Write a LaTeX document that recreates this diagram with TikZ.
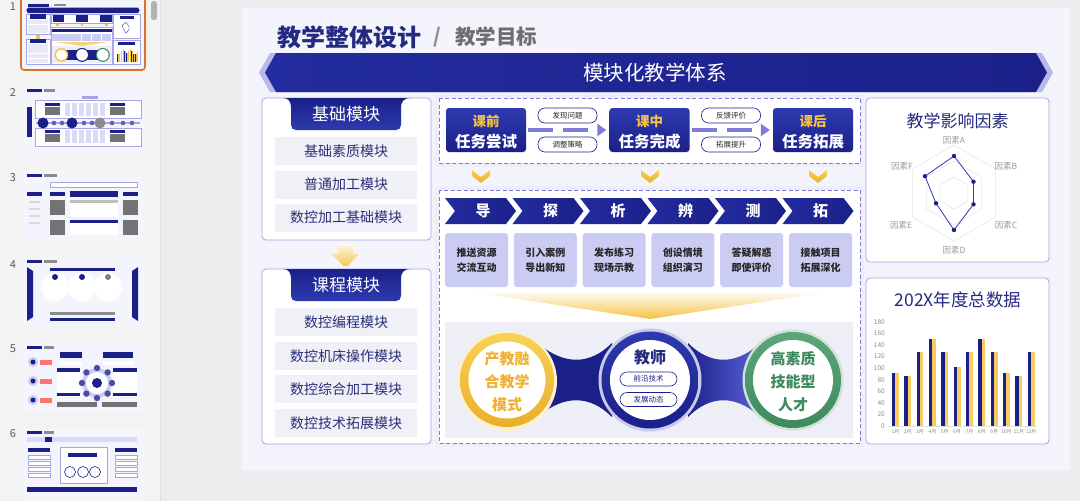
\documentclass[tikz,border=0pt]{standalone}
\usepackage{fontspec}
\setmainfont{Noto Sans CJK SC}
\usetikzlibrary{arrows.meta,calc}
\definecolor{db}{HTML}{1B2089}
\definecolor{dbm}{HTML}{232C9E}
\definecolor{dbl}{HTML}{2E3AAE}
\definecolor{lav}{HTML}{7E7CD8}
\definecolor{lavb}{HTML}{A6A6E4}
\definecolor{lavfill}{HTML}{CBCCF3}
\definecolor{gold}{HTML}{F5C243}
\definecolor{goldl}{HTML}{F8D258}
\definecolor{golddk}{HTML}{EBAE2A}
\definecolor{goldtxt}{HTML}{F0B030}
\definecolor{grn}{HTML}{3E8A5E}
\definecolor{grnl}{HTML}{5BA77A}
\definecolor{slidebg}{HTML}{F4F5FC}
\definecolor{itembg}{HTML}{F0F0F7}
\definecolor{navytxt}{HTML}{232A82}
\definecolor{itemtxt}{HTML}{2B2F78}
\definecolor{panelbg}{HTML}{EEEEF6}
\definecolor{uibg}{HTML}{EDEDEF}
\definecolor{leftbg}{HTML}{F3F3F3}
\definecolor{selorange}{HTML}{D9732B}
\definecolor{grtxt}{HTML}{6E6E6E}
\definecolor{bandr}{HTML}{5A5FD6}
\newcommand\fsz[1]{\fontsize{#1}{#1}\selectfont}
\newcommand\hexring[1]{(954,{193-#1}) -- ({954+0.866*#1},{193-0.5*#1}) -- ({954+0.866*#1},{193+0.5*#1}) -- (954,{193+#1}) -- ({954-0.866*#1},{193+0.5*#1}) -- ({954-0.866*#1},{193-0.5*#1}) -- cycle}
\newcommand\tabpath[1]{(283,#1) -- (411,#1) .. controls (403,#1) and (401,{#1+4}) .. (401,{#1+10}) -- (401,{#1+27}) .. controls (401,{#1+30}) and (399,{#1+32}) .. (396,{#1+32}) -- (296,{#1+32}) .. controls (293,{#1+32}) and (291,{#1+30}) .. (291,{#1+27}) -- (291,{#1+10}) .. controls (291,{#1+4}) and (289,#1) .. (283,#1) -- cycle}
\newcommand\vchev[1]{({#1-9},170) -- (#1,177) -- ({#1+9},170) -- ({#1+9},176) -- (#1,183) -- ({#1-9},176) -- cycle}
\begin{document}
\begin{tikzpicture}[x=1pt,y=-1pt,
  modbox/.style={fill=white,draw=lavb,line width=0.8pt,rounded corners=4pt},
  itembox/.style={fill=itembg,minimum width=142pt,minimum height=28pt,inner sep=0pt,font=\fsz{14},text=itemtxt},
  tabtext/.style={font=\fsz{17},text=white},
  dashbox/.style={fill=white,draw=lav,line width=1pt,dash pattern=on 4pt off 2.5pt},
  glowbox/.style={fill=lav!13},
  stagebox/.style={top color=dbl,bottom color=db,rounded corners=3pt,minimum width=80pt,minimum height=44pt,inner sep=0pt},
  stagetop/.style={font=\fsz{13.5}\bfseries,text=gold},
  stagebot/.style={font=\fsz{15.5}\bfseries,text=white},
  pill/.style={draw=db,line width=0.6pt,fill=white,rounded corners=7pt,minimum width=59pt,minimum height=15pt,inner sep=0pt,font=\fsz{7.5},text=black!85},
  flow/.style={draw=lav,line width=3.5pt,dash pattern=on 25pt off 10pt,-{Triangle[length=9pt,width=12pt]}},
  chevtext/.style={font=\fsz{15}\bfseries,text=white},
  actbox/.style={fill=lavfill,rounded corners=3pt,minimum width=63pt,minimum height=54pt,inner sep=0pt,align=center,font=\fontsize{10}{15.5}\selectfont\bfseries,text=black!85},
  ctext/.style={font=\fsz{15}\bfseries},
  tpill/.style={draw=db,line width=0.6pt,fill=white,rounded corners=7pt,minimum width=57pt,minimum height=14pt,inner sep=0pt,font=\fsz{7.5},text=db},
  rlabel/.style={font=\fsz{8.5},text=black!40},
  ylabel/.style={font=\fsz{6.5},text=black!45,anchor=east,inner sep=0pt},
  mlabel/.style={font=\fsz{5},text=black!45,inner sep=0pt},
  thumbnum/.style={font=\fsz{11},text=black!65},
  tline/.style={draw=lavb,line width=0.3pt}
]
\useasboundingbox (0,0) rectangle (1080,501);
% ---------- UI background ----------
\fill[uibg] (0,0) rectangle (1080,501);
\fill[leftbg] (0,0) rectangle (160,501);
\draw[black!12,line width=0.6pt] (160,0) -- (160,501);
\fill[black!30,rounded corners=2.5pt] (151,1) rectangle (157,20);
% thumbnail numbers
\node[thumbnum] (n1) at (13,7) {1};
\node[thumbnum] (n2) at (13,93) {2};
\node[thumbnum] (n3) at (13,178) {3};
\node[thumbnum] (n4) at (13,265) {4};
\node[thumbnum] (n5) at (13,349) {5};
\node[thumbnum] (n6) at (13,434) {6};
% ---------- thumbnail 1 (miniature of this slide) ----------
\begin{scope}[shift={(-12.07,-0.16)},scale=0.1449]
  \fill[slidebg] (242,8) rectangle (1070,470);
  \fill[db] (277,27) rectangle (422,46);
  \fill[black!45] (455,29) rectangle (537,45);
  \fill[db] (276,53) -- (1036,53) -- (1047,72.5) -- (1036,92) -- (276,92) -- (265,72.5) -- cycle;
  \fill[white] (262,98) rectangle (431,240);
  \fill[white] (262,269) rectangle (431,444);
  \draw[tline] (262,98) rectangle (431,240);
  \draw[tline] (262,269) rectangle (431,444);
  \fill[db] (291,98) rectangle (401,130);
  \fill[db] (291,269) rectangle (401,301);
  \foreach \yy in {151,184.5,217.5,322,356,389,423} \fill[itembg!80!lavfill] (275,{\yy-14}) rectangle (417,{\yy+14});
  \fill[gold] (335,243) rectangle (358,268);
  \fill[white] (439,98) rectangle (860,163);
  \draw[tline] (439,98) rectangle (860,163);
  \fill[db] (446,108) rectangle (526,152);
  \fill[db] (610,108) rectangle (689,152);
  \fill[db] (773,108) rectangle (853,152);
  \fill[gold] (472,170) rectangle (490,183);
  \fill[gold] (641,170) rectangle (659,183);
  \fill[gold] (809,170) rectangle (827,183);
  \fill[white] (439,190) rectangle (860,443);
  \draw[tline] (439,190) rectangle (860,443);
  \fill[db] (445,198) rectangle (853,224);
  \foreach \i in {0,...,5} \fill[lavfill] ({445+68.8*\i},233) rectangle ({508+68.8*\i},287);
  \fill[gold!70] (465,291) -- (834,291) -- (650,319) -- cycle;
  \fill[panelbg] (445,322) rectangle (853,438);
  \fill[db] (540,345) rectangle (760,415);
  \fill[gold] (507,380) circle (47); \fill[white] (507,380) circle (38);
  \fill[db] (650,380) circle (48); \fill[white] (650,380) circle (40);
  \fill[grn] (793,380) circle (48); \fill[white] (793,380) circle (40);
  \fill[white] (866,98) rectangle (1049,262);
  \fill[white] (866,278) rectangle (1049,444);
  \draw[tline] (866,98) rectangle (1049,262);
  \draw[tline] (866,278) rectangle (1049,444);
  \fill[db] (910,112) rectangle (1005,130);
  \fill[db] (898,291) rectangle (1018,310);
  \draw[db,line width=0.3pt] (954,156) -- (973.5,181.7) -- (973.5,204.3) -- (954,230) -- (936,203.3) -- (925,176.2) -- cycle;
  \foreach \i/\v in {1/92,2/86,3/128,4/150,5/128,6/102,7/128,8/150,9/128,10/92,11/86,12/128}{
    \fill[db] ({892+12.34*(\i-1)},426) rectangle ({895.4+12.34*(\i-1)},{426-0.5778*\v});
    \fill[gold] ({895.4+12.34*(\i-1)},426) rectangle ({898.8+12.34*(\i-1)},{426-0.5778*\v});
  }
\end{scope}
\draw[selorange,line width=1.6pt,rounded corners=3pt] (21,-3) rectangle (145,70);
% ---------- thumbnail 2 ----------
\begin{scope}[shift={(22,86)}]
  \fill[slidebg] (0,0) rectangle (122,69);
  \fill[db] (5,3) rectangle (20,6); \fill[black!45] (22,3) rectangle (33,6);
  \fill[lavb] (60,10) rectangle (76,13);
  \fill[white] (13,14) rectangle (119,32); \draw[tline] (13,14) rectangle (119,32);
  \fill[white] (13,42) rectangle (119,60); \draw[tline] (13,42) rectangle (119,60);
  \fill[db] (5,21) rectangle (10,51);
  \fill[db] (23,17) rectangle (38,20); \fill[db] (88,17) rectangle (103,20);
  \fill[black!55] (23,21) rectangle (38,29); \fill[black!55] (88,21) rectangle (103,29);
  \fill[db] (23,44) rectangle (38,47); \fill[db] (88,44) rectangle (103,47);
  \fill[black!55] (23,48) rectangle (38,56); \fill[black!55] (88,48) rectangle (103,56);
  \foreach \xx in {43,50,57,64,71,78}{\fill[lavfill!70] (\xx,17) rectangle (\xx+5,30); \fill[lavfill!70] (\xx,44) rectangle (\xx+5,57);}
  \draw[lavb,line width=1.5pt] (14,37) -- (118,37);
  \fill[db] (21,37) circle (5.5); \fill[db] (50,37) circle (5.5); \fill[black!45] (78,37) circle (5.5);
  \foreach \xx in {32,40,62,70,90,101,110} \fill[db!70] (\xx,37) circle (2.3);
\end{scope}
% ---------- thumbnail 3 ----------
\begin{scope}[shift={(22,171)}]
  \fill[slidebg] (0,0) rectangle (122,69);
  \fill[db] (5,3) rectangle (20,6); \fill[black!45] (22,3) rectangle (35,6);
  \fill[white] (28,11) rectangle (115,16); \draw[tline] (28,11) rectangle (115,16);
  \fill[db] (5,21) rectangle (20,25);
  \foreach \yy in {30,37,44,51} \fill[black!15] (7,\yy) rectangle (18,\yy+2);
  \fill[db] (28,21) rectangle (43,25); \fill[db] (48,20) rectangle (96,26); \fill[db] (101,21) rectangle (116,25);
  \fill[black!55] (28,29) rectangle (43,44); \fill[black!55] (101,29) rectangle (116,44);
  \fill[black!55] (28,49) rectangle (43,64); \fill[black!55] (101,49) rectangle (116,64);
  \fill[white] (48,29) rectangle (96,46); \fill[black!25] (48,29) rectangle (96,32);
  \fill[white] (48,49) rectangle (96,64); \fill[db] (48,49) rectangle (96,52);
\end{scope}
% ---------- thumbnail 4 ----------
\begin{scope}[shift={(22,257)}]
  \fill[slidebg] (0,0) rectangle (122,69);
  \fill[db] (5,3) rectangle (20,6); \fill[black!45] (22,3) rectangle (35,6);
  \fill[db] (5,10) -- (11,14) -- (11,60) -- (5,64) -- cycle;
  \fill[db] (116,10) -- (110,14) -- (110,60) -- (116,64) -- cycle;
  \fill[db] (28,11) rectangle (93,14);
  \fill[white] (33,30) circle (14); \fill[white] (60,30) circle (14); \fill[white] (86,30) circle (14);
  \fill[db] (33,20) circle (3); \fill[db] (60,20) circle (3); \fill[black!50] (86,20) circle (3);
  \fill[black!45] (28,55) rectangle (93,58);
  \fill[db] (28,61) rectangle (93,64);
\end{scope}
% ---------- thumbnail 5 ----------
\begin{scope}[shift={(22,343)}]
  \fill[slidebg] (0,0) rectangle (122,69);
  \fill[db] (5,3) rectangle (20,6); \fill[black!45] (22,3) rectangle (32,6);
  \foreach \yy in {19,38,57}{\fill[lavfill] (11,\yy) circle (5); \fill[db] (11,\yy) circle (2.5); \fill[red!55] (18,\yy-2.5) rectangle (30,\yy+2.5);}
  \fill[db] (38,9) rectangle (60,15); \fill[db] (81,9) rectangle (111,15);
  \fill[white] (38,18) rectangle (60,22); \fill[white] (81,18) rectangle (111,22);
  \fill[white] (35,25) rectangle (58,54); \fill[db] (35,25) rectangle (58,29); \fill[db] (35,50) rectangle (58,53);
  \fill[white] (91,25) rectangle (115,54); \fill[db] (91,25) rectangle (115,29); \fill[db] (91,50) rectangle (115,53);
  \fill[lavfill] (75,40) circle (15); \fill[white] (75,40) circle (11);
  \foreach \a in {0,45,...,315} \fill[db!80] ({75+15*cos(\a)},{40+15*sin(\a)}) circle (3.2);
  \fill[db] (75,40) circle (5);
  \fill[black!55] (35,59) rectangle (75,64); \fill[black!55] (80,59) rectangle (115,64);
\end{scope}
% ---------- thumbnail 6 ----------
\begin{scope}[shift={(22,428)}]
  \fill[slidebg] (0,0) rectangle (122,69);
  \fill[db] (5,3) rectangle (20,6); \fill[black!45] (22,3) rectangle (32,6);
  \fill[lavfill!70] (5,9) rectangle (115,14); \fill[db] (23,9) rectangle (30,14);
  \fill[db] (6,20) rectangle (28,24); \fill[db] (93,20) rectangle (115,24);
  \foreach \yy in {27,33,39,45}{\draw[tline,fill=white] (6,\yy) rectangle (28,\yy+4); \draw[tline,fill=white] (93,\yy) rectangle (115,\yy+4);}
  \fill[white] (38,19) rectangle (85,55); \draw[tline] (38,19) rectangle (85,55);
  \fill[db] (46,25) rectangle (75,29);
  \foreach \xx in {48,61,73} \draw[db,line width=0.6pt,fill=white] (\xx,44) circle (5.5);
  \fill[db] (5,59) rectangle (115,64);
\end{scope}
% ---------- main slide ----------
\fill[black!7] (243,9) rectangle (1071,471);
\fill[slidebg] (242,8) rectangle (1070,470);
% title
\node[anchor=west,font=\fsz{24}\bfseries,text=navytxt,inner sep=0pt] (title) at (277,37) {教学整体设计};
\node[font=\fsz{20}\bfseries,text=grtxt!80,inner sep=0pt] (slash) at (437,37) {/};
\node[anchor=west,font=\fsz{20.5}\bfseries,text=grtxt,inner sep=0pt] (subtitle) at (455,37) {教学目标};
% banner
\fill[lavb!80] (270,53) -- (1030,53) -- (1041,72.5) -- (1030,92) -- (270,92) -- (259,72.5) -- cycle;
\fill[lavb!80] (282,53) -- (1042,53) -- (1053,72.5) -- (1042,92) -- (282,92) -- (271,72.5) -- cycle;
\shade[left color=dbm,right color=db] (276,53) -- (1036,53) -- (1047,72.5) -- (1036,92) -- (276,92) -- (265,72.5) -- cycle;
\node[font=\fsz{20.5},text=white] (banner) at (655,73) {模块化教学体系};
% left module boxes
\fill[lav!10,rounded corners=5pt] (259,95) rectangle (434,243);
\draw[modbox] (262,98) rectangle (431,240);
\shade[top color=db,bottom color=dbl] \tabpath{98};
\node[tabtext] (t1) at (346,114.5) {基础模块};
\node[itembox] (m1) at (346,151) {基础素质模块};
\node[itembox] (m2) at (346,184.5) {普通加工模块};
\node[itembox] (m3) at (346,217.5) {数控加工基础模块};
\shade[top color=gold!10,bottom color=gold] (338,243) -- (353,243) -- (353,254) -- (359,254) -- (345.5,268) -- (332,254) -- (338,254) -- cycle;
\fill[lav!10,rounded corners=5pt] (259,266) rectangle (434,447);
\draw[modbox] (262,269) rectangle (431,444);
\shade[top color=db,bottom color=dbl] \tabpath{269};
\node[tabtext] (t2) at (346,285.5) {课程模块};
\node[itembox] (m4) at (346,322) {数控编程模块};
\node[itembox] (m5) at (346,356) {数控机床操作模块};
\node[itembox] (m6) at (346,389) {数控综合加工模块};
\node[itembox] (m7) at (346,423) {数控技术拓展模块};
% middle top flow
\fill[glowbox] (435,94) rectangle (864,167);
\draw[dashbox] (439,98) rectangle (860,163);
\node[stagebox] (k1) at (486,130) {};
\node[stagebox] (k2) at (649.5,130) {};
\node[stagebox] (k3) at (813,130) {};
\node[stagetop] (k1a) at (486,121) {课前};
\node[stagebot] (k1b) at (486,142) {任务尝试};
\node[stagetop] (k2a) at (649.5,121) {课中};
\node[stagebot] (k2b) at (649.5,142) {任务完成};
\node[stagetop] (k3a) at (813,121) {课后};
\node[stagebot] (k3b) at (813,142) {任务拓展};
\node[pill] (p1) at (567.5,115.5) {发现问题};
\node[pill] (p2) at (567.5,144.5) {调整策略};
\node[pill] (p3) at (731,115.5) {反馈评价};
\node[pill] (p4) at (731,144.5) {拓展提升};
\draw[flow,shorten <=2pt,shorten >=3pt] (k1) -- (k2);
\draw[flow,shorten <=2pt,shorten >=3pt] (k2) -- (k3);
\shade[top color=goldl,bottom color=golddk] \vchev{481};
\shade[top color=goldl,bottom color=golddk] \vchev{650};
\shade[top color=goldl,bottom color=golddk] \vchev{818};
% middle bottom box
\fill[glowbox] (435,186) rectangle (864,447);
\draw[dashbox] (439,190) rectangle (860,443);
\foreach \i/\t in {0/导,1/探,2/析,3/辨,4/测,5/拓}{
  \pgfmathsetmacro\xx{445+67.5*\i}
  \shade[left color=dbm,right color=db] (\xx,198) -- ++(61,0) -- ++(10,13) -- ++(-10,13) -- ++(-61,0) -- ++(10,-13) -- cycle;
  \node[chevtext] (c\i) at (\xx+38,211) {\t};
}
\foreach \i/\a/\b in {0/推送资源/交流互动,1/引入案例/导出新知,2/发布练习/现场示教,3/创设情境/组织演习,4/答疑解惑/即使评价,5/接触项目/拓展深化}{
  \node[actbox] (a\i) at ({476.5+68.8*\i},260) {\a\\\b};
}
\fill[panelbg] (445,322) rectangle (853,438);
\shade[top color=white,bottom color=gold] (465,291) -- (834,291) -- (650,319) -- cycle;
% bands
\fill[db] (540,345) .. controls (565,365) and (590,365) .. (612,343) -- (612,417) .. controls (590,395) and (565,395) .. (540,415) -- cycle;
\shade[left color=db,right color=bandr] (688,343) .. controls (710,365) and (735,365) .. (758,345) -- (758,415) .. controls (735,395) and (710,395) .. (688,417) -- cycle;
% circles
\fill[gold!25] (507,381) circle (50);
\shade[top color=goldl,bottom color=golddk] (507,380) circle (47);
\fill[white] (507,380) circle (38.5);
\node[ctext,text=goldtxt] (l1) at (507,359) {产教融};
\node[ctext,text=goldtxt] (l2) at (507,382) {合教学};
\node[ctext,text=goldtxt] (l3) at (507,405) {模式};
\fill[lavb!60] (650,380) circle (51.5);
\shade[top color=dbl,bottom color=db] (650,380) circle (48.5);
\fill[white] (650,380) circle (40);
\node[font=\fsz{16}\bfseries,text=navytxt] (tc) at (650,357) {教师};
\node[tpill] (q1) at (648.5,379) {前沿技术};
\node[tpill] (q2) at (648.5,399.5) {发展动态};
\fill[grn!25] (793,380) circle (50.5);
\shade[top color=grnl,bottom color=grn] (793,380) circle (48);
\fill[white] (793,380) circle (40);
\node[ctext,text=grn] (r1) at (793,359) {高素质};
\node[ctext,text=grn] (r2) at (793,382) {技能型};
\node[ctext,text=grn] (r3) at (793,405) {人才};
% radar panel
\fill[lav!10,rounded corners=5pt] (863,95) rectangle (1052,265);
\draw[modbox] (866,98) rectangle (1049,262);
\node[font=\fsz{17},text=navytxt] (rt) at (957.5,121) {教学影响因素};
\draw[black!10,line width=0.5pt] \hexring{16};
\draw[black!10,line width=0.5pt] \hexring{32};
\draw[black!10,line width=0.5pt] \hexring{48};
\coordinate (rA) at (954,156);
\coordinate (rB) at (973.5,181.7);
\coordinate (rC) at (973.5,204.3);
\coordinate (rD) at (954,230);
\coordinate (rE) at (936,203.3);
\coordinate (rF) at (925,176.2);
\draw[dbl,line width=0.8pt] (rA) -- (rB) -- (rC) -- (rD) -- (rE) -- (rF) -- cycle;
\foreach \p in {rA,rB,rC,rD,rE,rF} \fill[db] (\p) circle (2.2);
\node[rlabel] (fA) at (954,140) {因素A};
\node[rlabel] (fB) at (1006,166) {因素B};
\node[rlabel] (fC) at (1006,225) {因素C};
\node[rlabel] (fD) at (954,250) {因素D};
\node[rlabel] (fE) at (901,225) {因素E};
\node[rlabel] (fF) at (902,166) {因素F};
% bar chart panel
\fill[lav!10,rounded corners=5pt] (863,275) rectangle (1052,447);
\draw[modbox] (866,278) rectangle (1049,444);
\node[font=\fsz{17.5},text=navytxt] (bt) at (958,300) {202X年度总数据};
\foreach \v in {0,20,...,180}{ \node[ylabel] (yl\v) at (885,{426-0.5778*\v}) {\v}; }
\draw[black!12,line width=0.5pt] (888,426) -- (1037,426);
\foreach \i/\v in {1/92,2/86,3/128,4/150,5/128,6/102,7/128,8/150,9/128,10/92,11/86,12/128}{
  \pgfmathsetmacro\bx{892+12.34*(\i-1)}
  \pgfmathsetmacro\by{426-0.5778*\v}
  \fill[db] (\bx,426) rectangle (\bx+3.4,\by);
  \fill[gold!85!white] (\bx+3.4,426) rectangle (\bx+6.8,\by);
  \node[mlabel] (mo\i) at (\bx+3.4,431.5) {{\i}月};
}
\end{tikzpicture}
\end{document}
